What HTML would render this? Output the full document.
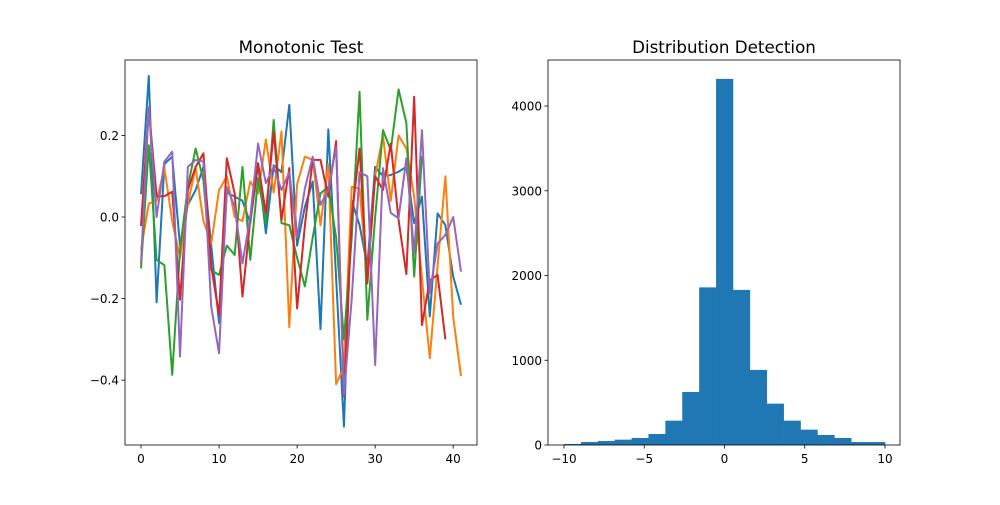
<!DOCTYPE html>
<html><head><meta charset="utf-8"><style>
html,body{margin:0;padding:0;background:#fff;}
svg text{font-family:"DejaVu Sans","Liberation Sans",sans-serif;fill:#000;}
</style></head><body>
<svg id="fig" width="1000" height="500" xmlns="http://www.w3.org/2000/svg">
<rect width="1000" height="500" fill="#fff"/>
<g id="left"></g>
<g id="right"></g>
</svg>
<script>
const lineSeriesBlue = [0.056,0.346,-0.209,0.13,0.148,-0.07,0.03,0.066,0.123,-0.07,-0.26,0.06,0.05,0.04,-0.015,0.13,-0.04,0.127,0.11,0.275,-0.07,0.025,0.087,-0.275,0.215,-0.15,-0.514,0.04,-0.02,-0.12,0.123,0.1,0.103,0.111,0.123,-0.015,0.05,-0.244,0.009,-0.02,-0.146,-0.215];
const lineSeriesOrange = [-0.08,0.033,0.04,0.12,-0.01,-0.1,0.033,0.12,-0.01,-0.065,0.066,0.1,0,-0.01,0.087,0.058,0.19,0.06,0.21,-0.27,0.08,0.148,0.14,-0.02,0.13,-0.41,-0.367,0.074,0.07,-0.15,0.1,0.2,0.04,0.2,0.168,0.05,-0.15,-0.346,-0.12,0.1,-0.245,-0.39];
const lineSeriesGreen = [-0.126,0.176,-0.105,-0.118,-0.387,-0.08,0.074,0.168,0.09,-0.13,-0.142,-0.07,-0.093,0.123,-0.105,0.095,-0.015,0.238,-0.015,-0.02,-0.1,-0.17,-0.05,0.058,0.074,-0.05,-0.3,-0.05,0.307,-0.252,0.0,0.213,0.164,0.313,0.23,-0.146,0.15];
const lineSeriesRed = [-0.022,0.266,0.051,0.051,0.062,-0.203,0.066,0.123,0.156,-0.122,-0.24,0.144,0.058,-0.195,-0.007,0.132,0.009,0.209,-0.007,0.12,-0.224,-0.02,0.14,0.14,0.05,0.186,-0.44,0.0,0.168,-0.163,0.1,0.066,0.18,-0.007,-0.14,0.295,-0.265,-0.155,-0.142,-0.30];
const lineSeriesPurple = [-0.114,0.27,0,0.136,0.16,-0.342,0.123,0.14,0.136,-0.22,-0.334,0.074,0.025,-0.114,0,0.18,0.083,0.123,0.066,0.11,-0.05,0.07,0.148,0.03,0.066,0.172,-0.436,-0.2,0.11,0.1,-0.363,0.12,0.01,-0.003,0.144,-0.09,0.213,-0.187,-0.065,-0.044,0,-0.134];
const leftXTicks = [0,10,20,30,40];
const leftYTicks = [-0.4,-0.2,0.0,0.2];
const leftYTickLabels = ["\u22120.4","\u22120.2","0.0","0.2"];
const histCounts = [12,35,47,63,83,130,287,626,1860,4320,1830,886,488,287,181,118,83,35,35];
const histRange = [-10,10];
const rightXTicks = [-10,-5,0,5,10];
const rightXTickLabels = ["\u221210","\u22125","0","5","10"];
const rightYTicks = [0,1000,2000,3000,4000];

const NS="http://www.w3.org/2000/svg";
function mk(parent,tag,attrs,text){const e=document.createElementNS(NS,tag);for(const k in attrs)e.setAttribute(k,attrs[k]);if(text!==undefined)e.textContent=text;parent.appendChild(e);return e;}

const L={x0:125,x1:477,y0:60,y1:445,xmin:-2.05,xmax:43.05,ymin:-0.559,ymax:0.385};
function lx(v){return L.x0+(v-L.xmin)/(L.xmax-L.xmin)*(L.x1-L.x0);}
function ly(v){return L.y1-(v-L.ymin)/(L.ymax-L.ymin)*(L.y1-L.y0);}
const lg=document.getElementById('left');
const series=[[lineSeriesBlue,'#1f77b4','line-series-1'],[lineSeriesOrange,'#ff7f0e','line-series-2'],[lineSeriesGreen,'#2ca02c','line-series-3'],[lineSeriesRed,'#d62728','line-series-4'],[lineSeriesPurple,'#9467bd','line-series-5']];
series.forEach(s=>{
  const pts=s[0].map((v,i)=>lx(i).toFixed(2)+','+ly(v).toFixed(2)).join(' ');
  const pl=mk(lg,'polyline',{points:pts,fill:'none',stroke:s[1],'stroke-width':2,'stroke-linejoin':'round'});
  
  
});
leftXTicks.forEach(t=>{
  const g=mk(lg,'g',{});
  
  
  mk(g,'line',{x1:lx(t),x2:lx(t),y1:L.y1,y2:L.y1+3.5,stroke:'#000','stroke-width':0.8});
  mk(g,'text',{x:lx(t),y:L.y1+18,'font-size':12,'text-anchor':'middle'},String(t));
});
leftYTicks.forEach((t,i)=>{
  const g=mk(lg,'g',{});
  
  
  mk(g,'line',{x1:L.x0-3.5,x2:L.x0,y1:ly(t),y2:ly(t),stroke:'#000','stroke-width':0.8});
  mk(g,'text',{x:L.x0-6,y:ly(t)+4.5,'font-size':12,'text-anchor':'end'},leftYTickLabels[i]);
});
const lf=mk(lg,'rect',{x:L.x0,y:L.y0,width:L.x1-L.x0,height:L.y1-L.y0,fill:'none',stroke:'#000','stroke-width':0.8});


const lt=mk(lg,'text',{x:(L.x0+L.x1)/2,y:53,'font-size':16.7,'text-anchor':'middle'},'Monotonic Test');



const R={x0:548,x1:900,y0:60,y1:445,xmin:-10.997,xmax:10.935,ymin:0,ymax:4543};
function rx(v){return R.x0+(v-R.xmin)/(R.xmax-R.xmin)*(R.x1-R.x0);}
function ry(v){return R.y1-(v-R.ymin)/(R.ymax-R.ymin)*(R.y1-R.y0);}
const rg=document.getElementById('right');
const bw=(histRange[1]-histRange[0])/histCounts.length;
histCounts.forEach((c,i)=>{
  const a=histRange[0]+i*bw,b=a+bw;
  const r=mk(rg,'rect',{x:rx(a),y:ry(c),width:rx(b)-rx(a)+0.3,height:ry(0)-ry(c),fill:'#1f77b4'});
  
  
});
rightXTicks.forEach((t,i)=>{
  const g=mk(rg,'g',{});
  
  
  mk(g,'line',{x1:rx(t),x2:rx(t),y1:R.y1,y2:R.y1+3.5,stroke:'#000','stroke-width':0.8});
  mk(g,'text',{x:rx(t),y:R.y1+18,'font-size':12,'text-anchor':'middle'},rightXTickLabels[i]);
});
rightYTicks.forEach((t,i)=>{
  const g=mk(rg,'g',{});
  
  
  mk(g,'line',{x1:R.x0-3.5,x2:R.x0,y1:ry(t),y2:ry(t),stroke:'#000','stroke-width':0.8});
  mk(g,'text',{x:R.x0-6,y:ry(t)+4.5,'font-size':12,'text-anchor':'end'},String(t));
});
const rf=mk(rg,'rect',{x:R.x0,y:R.y0,width:R.x1-R.x0,height:R.y1-R.y0,fill:'none',stroke:'#000','stroke-width':0.8});


const rt=mk(rg,'text',{x:(R.x0+R.x1)/2,y:53,'font-size':16.7,'text-anchor':'middle'},'Distribution Detection');


</script>
</body></html>
